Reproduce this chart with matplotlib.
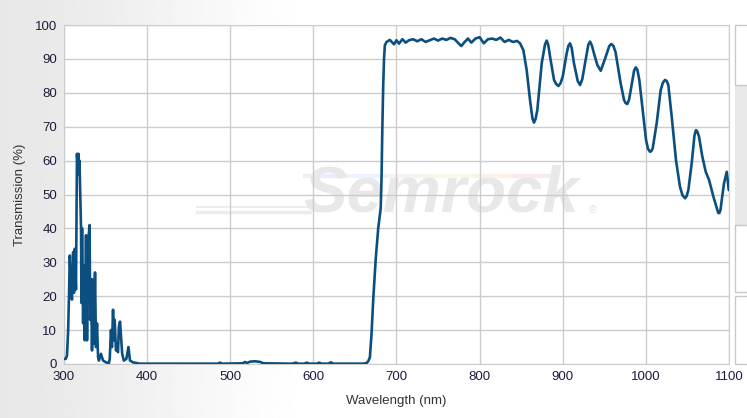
import numpy as np
import matplotlib.pyplot as plt
from matplotlib.patches import Rectangle

plt.rcParams["font.family"] = ["Liberation Sans", "DejaVu Sans"]

wavelength = [
    300, 302, 303.6, 305, 306, 307, 308.4, 309.6, 311, 312, 313, 314.4, 315.6, 316.8,
    317.5, 318, 318.6, 320.5, 321, 321.7, 323, 324, 325, 326.5, 327.7, 329, 330.8,
    331.5, 332.5, 333.7, 335, 336, 337.3, 338.5, 339.7, 341, 342, 344.5, 347, 350.5,
    354, 355, 356.5, 357.7, 359, 360, 361, 362.5, 363.8, 365, 366, 367.4, 368.6, 370,
    372, 375, 377.5, 379.4, 383, 391, 420, 460, 485, 487.7, 490, 515, 517.7, 520,
    524, 530, 536, 540, 575, 578.7, 582, 589, 592, 595, 604, 607, 610, 618, 621, 624,
    640, 660, 664, 666, 668, 670, 672, 675, 678, 680, 681, 682, 683, 684, 685, 686,
    688, 692, 697, 700, 703, 707, 711, 715, 720, 725, 730, 735, 740, 745, 750, 755,
    760, 765, 770, 775, 778, 782, 786, 790, 795, 800, 805, 810, 815, 820, 825, 830,
    835, 840, 845, 848.6, 852.6, 856.6, 860.6, 863.5, 865.4, 867.3, 869.4, 874.7,
    878.6, 880.7, 882.7, 884.7, 889.5, 892, 894.7, 897.3, 900, 904.7, 906.7, 908.7,
    910.8, 913.5, 918, 920.8, 923.5, 926.8, 930.8, 932.8, 935, 937.6, 941.6, 945.7,
    950.8, 956, 958.5, 961, 963.5, 969.5, 973.7, 975.5, 977.7, 979.8, 981.8, 985.8,
    987.8, 989.8, 992.1, 996.2, 1000.2, 1002.5, 1005, 1006.5, 1008.2, 1013, 1017.8,
    1020.5, 1023, 1025, 1027, 1031.1, 1036.2, 1041, 1044, 1047.1, 1049, 1051.1,
    1055.1, 1058.5, 1060.3, 1062, 1063.9, 1067.9, 1072, 1076, 1081.2, 1086, 1087,
    1088.4, 1089.8, 1091.3, 1094, 1097.3, 1099.7,
]
transmission = [
    1.5, 1.5, 2.5, 10, 20, 32, 22, 19, 33, 21, 34, 22, 62, 57,
    62, 56, 60, 40, 18, 40, 12, 29, 7, 38, 7, 36, 41,
    13, 25, 4, 25, 6, 27, 5, 12, 2, 1, 3, 1, 0.5,
    0.2, 1.5, 10, 5, 16, 7, 13, 4, 4, 3.5, 11, 12.5, 8, 3,
    1, 1.5, 5, 1, 0.5, 0.1, 0.1, 0.1, 0.1, 0.4, 0.1, 0.2, 0.6, 0.3,
    0.7, 0.8, 0.6, 0.2, 0.1, 0.4, 0.1, 0.1, 0.4, 0.1, 0.1, 0.4, 0.1, 0.1, 0.5, 0.1,
    0.1, 0.1, 0.3, 0.8, 2, 9, 19, 31, 40, 44, 46, 55, 70, 82, 90, 94,
    95, 95.6, 94.3, 95.5, 94.5, 95.8, 94.8, 95.5, 95.8, 95.2, 95.8, 95, 95.5, 96, 95.4, 96,
    95.6, 96.2, 95.8, 94.5, 93.8, 95, 96, 94.8, 96, 96.4, 94.6, 95.8, 96, 95.6, 96.3, 95,
    95.6, 95, 95.3, 94.6, 92.6, 86.7, 77.9, 72.5, 71.2, 72.3, 74.9, 88.7,
    94.2, 95.4, 94.0, 90.7, 83.8, 82.6, 82, 82.8, 84.8, 91.6, 93.8, 94.6,
    93.2, 88.7, 83.5, 82.3, 84, 88.7, 94.2, 95.1, 94, 91.6, 88.2, 86.5,
    90, 93.8, 94.4, 93.8, 92, 83, 77.9, 77, 76.7, 78, 80.8, 86.5,
    87.5, 86.8, 83.8, 74.9, 66.1, 63.5, 62.6, 62.8, 63.6, 71, 80.8,
    83, 83.8, 83.5, 82.3, 72.9, 60.2, 52.3, 49.8, 48.9, 49.5, 51.3,
    59.2, 67.5, 69, 68.5, 67.1, 61.2, 56.7, 54.3, 49.4, 45.4, 44.6,
    44.5, 45.5, 48.4, 53.3, 56.7, 51.3,
]

x_ticks = [300, 400, 500, 600, 700, 800, 900, 1000, 1100]
y_ticks = [0, 10, 20, 30, 40, 50, 60, 70, 80, 90, 100]

W, H = 747, 418
fig = plt.figure(figsize=(W / 100, H / 100), dpi=100)

# soft grey background fading to the right
bg = fig.add_axes([0, 0, 1, 1], zorder=-10)
gx = np.linspace(0, 1, 400)
t = np.clip(gx / 0.45, 0, 1)
shade = 0.91 + 0.09 * (t * t * (3 - 2 * t))
bg.imshow(np.tile(shade, (10, 1)), cmap="gray", vmin=0, vmax=1, aspect="auto",
          extent=[0, 1, 0, 1])
bg.axis("off")

# side panels on the right
fig.patches.append(Rectangle((735 / W, 1 - 225 / H), 20 / W, 140 / H,
                             transform=fig.transFigure, facecolor="#e9e9e9",
                             edgecolor="none"))
for y0, y1 in [(25, 85), (225, 292), (296, 364)]:
    fig.patches.append(Rectangle((735 / W, 1 - y1 / H), 20 / W, (y1 - y0) / H,
                                 transform=fig.transFigure, facecolor="white",
                                 edgecolor="#c8c8c8", linewidth=1))

ax = fig.add_axes([64 / W, 1 - 364 / H, 665 / W, 339 / H])
ax.set_facecolor("white")

# watermark
ax.text(0.567, 0.50, "Semrock", transform=ax.transAxes, fontsize=47, fontweight="bold",
        fontstyle="italic", color="#e8e8e8", ha="center", va="center", zorder=0.5)
ax.text(0.79, 0.455, "®", transform=ax.transAxes, fontsize=8, color="#e4e4e4",
        ha="left", va="center", zorder=0.5)
rainbow = ["#ececfc", "#ecf3fc", "#eef8ec", "#f8f8e8", "#fbf1e8", "#fbeaea"]
for i, c in enumerate(rainbow):
    ax.plot([0.36 + i * 0.0633, 0.4233 + i * 0.0633], [0.555, 0.555],
            transform=ax.transAxes, color=c, lw=3, solid_capstyle="butt", zorder=0.4)
ax.plot([0.2, 0.37], [0.448, 0.448], transform=ax.transAxes, color="#ececec", lw=2.5, zorder=0.4)
ax.plot([0.2, 0.37], [0.463, 0.463], transform=ax.transAxes, color="#ededed", lw=1.5, zorder=0.4)

ax.plot(wavelength, transmission, color="#0b4f80", lw=1.9, zorder=3,
        solid_joinstyle="round", solid_capstyle="round")

ax.set_xlim(300, 1100)
ax.set_ylim(0, 100)
ax.set_xticks(x_ticks)
ax.set_yticks(y_ticks)
ax.grid(True, color="#cccccc", lw=1)
ax.set_axisbelow(True)
for s in ax.spines.values():
    s.set_color("#cccccc")
ax.tick_params(length=0, labelsize=9.5, labelcolor="#1c1c3c", pad=5)
ax.set_xlabel("Wavelength (nm)", fontsize=9.5, color="#333333", labelpad=9)
ax.set_ylabel("Transmission (%)", fontsize=9.5, color="#333333", labelpad=6)

fig.savefig("out.png", dpi=100)
